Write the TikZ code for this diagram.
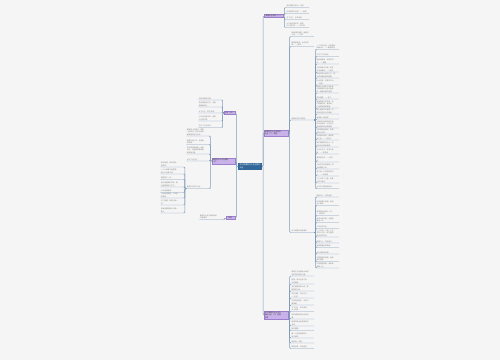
\documentclass[tikz,border=0pt]{standalone}
\usepackage{fontspec}
\newfontfamily\cjk{Noto Sans CJK SC}
\XeTeXlinebreaklocale "zh"
\XeTeXlinebreakskip=0pt plus 1pt
\definecolor{bgc}{HTML}{F5F5F5}
\definecolor{linec}{HTML}{7F9BB8}
\definecolor{txtg}{HTML}{858585}
\definecolor{purp}{HTML}{C9B2EA}
\definecolor{purpd}{HTML}{9C80CC}
\definecolor{cblue}{HTML}{33679A}
\tikzset{
  leaf/.style={font=\cjk\fontsize{1.7}{2.3}\selectfont, text=txtg, text width=22pt, inner xsep=0.4pt, inner ysep=0.5pt, align=left},
  lr/.style={leaf, anchor=south west},
  ll/.style={leaf, anchor=south east},
  topic/.style={font=\cjk\fontsize{1.8}{2.4}\selectfont, text=black!75, fill=purp, draw=purpd, line width=0.3pt, inner sep=0.6pt, align=left},
  conn/.style={draw=linec, line width=0.45pt, rounded corners=1pt},
}
\begin{document}
\begin{tikzpicture}[x=1pt,y=-1pt]
\useasboundingbox (0,0) rectangle (500,360);
\fill[bgc] (0,0) rectangle (500,360);

% central
\node[font=\cjk\fontsize{1.9}{2.5}\selectfont, text=white, fill=cblue, minimum width=24pt, minimum height=7pt, inner sep=0.5pt, align=left] (C) at (250,166.5) {关于爱国的名人名言摘抄\\大全};

% main topics
\node[topic, anchor=west, minimum width=19pt] (R1) at (264,16) {爱国名言警句（一）};
\node[topic, anchor=west, text width=23pt] (R2) at (264,133) {爱国的名人名言摘抄\\大全（二）精选};
\node[topic, anchor=west, text width=23pt] (R3) at (264,315) {关于爱国的名人名言\\摘抄大全（三）经典\\语录};
\node[topic, anchor=east, minimum width=11pt] (L1) at (235,113) {名言（四）};
\node[topic, anchor=east, text width=22pt] (L2) at (235,161) {爱国的名人名言摘抄\\（五）};
\node[topic, anchor=east, minimum width=9pt] (L3) at (235,218) {相关};

\draw[conn] (C.east) -- ++(1,0) |- (R1.west);
\draw[conn] (C.east) -- ++(1,0) |- (R2.west);
\draw[conn] (C.east) -- ++(1,0) |- (R3.west);
\draw[conn] (C.west) -- ++(-1.5,0) |- (L1.east);
\draw[conn] (C.west) -- ++(-1.5,0) |- (L2.east);
\draw[conn] (C.west) -- ++(-1.5,0) |- (L3.east);

% R1 children
\node[lr] (a1) at (286,7.5) {苟利国家生死以，岂因};
\node[lr] (a2) at (286,13.5) {位卑未敢忘忧国。——陆游};
\node[lr] (a3) at (286,19.5) {天下兴亡，匹夫有责。};
\node[lr] (a4) at (286,27.5) {人生自古谁无死，留取\\丹心照汗青。——文天祥};
\foreach \n in {a1,a2,a3,a4} \draw[conn] (R1.east) -- ++(1,0) |- (\n.south west) -- (\n.south east);

% R2 children
\node[lr] (b1) at (291,36.5) {我爱我的祖国，爱我的\\人民。——艾青};
\node[lr] (b2) at (291,46.5) {祖国如有难，汝应作前\\锋。——陈毅};
\node[lr] (b3) at (291,120) {爱国名言名句精选};
\node[lr] (b4) at (291,232.5) {关于爱国的经典语录};
\foreach \n in {b1,b2,b3,b4} \draw[conn] (R2.east) -- ++(1.2,0) |- (\n.south west) -- (\n.south east);

% b3 subs
\node[lr] (c1) at (316,49.5) {一个人的价值，应该看他\\贡献什么。——爱因斯坦};
\node[lr] (c2) at (316,56.5) {先天下之忧而忧。};
\node[lr] (c3) at (316,64) {捐躯赴国难，视死忽如\\归。——曹植};
\node[lr] (c4) at (316,72) {位卑未敢忘忧国，事定\\犹须待阖棺。——陆游};
\node[lr] (c5) at (316,78) {我是中国人民的儿子，我\\深情地爱着我的祖国。};
\node[lr] (c6) at (316,85) {以身许国，何事不可为。\\——陈毅};
\node[lr] (c7) at (316,93) {爱国主义就是千百年来\\巩固起来的对自己祖国\\的一种最深厚的感情。};
\node[lr] (c8) at (316,99) {精忠报国。——岳飞};
\node[lr] (c9) at (316,108) {祖国是我们的母亲，我\\们要爱护她、建设她，\\让她更加繁荣富强。};
\node[lr] (c10) at (316,114) {我们爱我们的民族，这\\是我们自信心的源泉。};
\node[lr] (c11) at (316,119) {爱国是一种情怀。};
\node[lr] (c12) at (316,128) {不管时代的潮流和社会\\的风尚怎样，人总可以\\凭着高贵的品质超脱。};
\node[lr] (c13) at (316,134) {劝君莫惜金缕衣，劝君\\惜取少年时。};
\node[lr] (c14) at (316,140) {常思奋不顾身，而殉国\\家之急。——司马迁};
\node[lr] (c15) at (316,147) {我们是国家的主人，应\\该处处为国家着想。};
\node[lr] (c16) at (316,154) {生当作人杰，死亦为鬼\\雄。——李清照};
\node[lr] (c17) at (316,162) {爱国如饥渴。——顾炎\\武};
\node[lr] (c18) at (316,169) {人民不仅有权爱国，而\\且爱国是义务。};
\node[lr] (c19) at (316,176) {我只是一个中国的读书\\人。——梁启超};
\node[lr] (c20) at (316,183) {寸寸山河寸寸金，侉离\\分裂力谁任。};
\node[lr] (c21) at (316,188.5) {为中华之崛起而读书。};
\foreach \n in {c1,c2,c3,c4,c5,c6,c7,c8,c9,c10,c11,c12,c13,c14,c15,c16,c17,c18,c19,c20,c21} \draw[conn] (b3.south east) -- ++(1.5,0) |- (\n.south west) -- (\n.south east);

% b4 subs
\node[lr] (d1) at (316,197) {国家兴亡，匹夫有责。};
\node[lr] (d2) at (316,205.5) {位卑未敢忘忧国，哪怕\\无人知我。};
\node[lr] (d3) at (316,215.5) {祖国的利益高于一切。\\——周恩来};
\node[lr] (d4) at (316,222.5) {我愿以身许国，为祖国\\献出一切。};
\node[lr] (d5) at (316,228.5) {三军可夺帅也。};
\node[lr] (d6) at (316,237) {一寸山河一寸血，十万\\青年十万军，保卫祖国\\是我们的责任。};
\node[lr] (d7) at (316,243) {报国之心，死而后已。};
\node[lr] (d8) at (316,247.5) {爱国是最高的美德。};
\node[lr] (d9) at (316,254) {我以我血荐轩辕。};
\node[lr] (d10) at (316,261.5) {中国是我的祖国，我爱\\我的祖国。};
\node[lr] (d11) at (316,268) {只要祖国需要，我愿意\\奉献一切。};
\foreach \n in {d1,d2,d3,d4,d5,d6,d7,d8,d9,d10,d11} \draw[conn] (b4.south east) -- ++(1.5,0) |- (\n.south west) -- (\n.south east);

% R3 children
\node[lr] (e1) at (291,276) {爱国主义是激励人民前\\进的强大精神力量。};
\node[lr] (e2) at (291,284) {祖国，我永远忠于你，\\为你献身。};
\node[lr] (e3) at (291,291) {我们爱祖国的山河，爱\\祖国的人民。};
\node[lr] (e4) at (291,298) {苟利社稷，死生以之。\\——左传};
\node[lr] (e5) at (291,305) {与其苟且偷生，不如为\\国捐躯。};
\node[lr] (e6) at (291,311.5) {天下兴亡，匹夫有责，\\人人有责。};
\node[lr] (e7) at (291,319) {我的祖国是我永远的骄\\傲。};
\node[lr] (e8) at (291,326) {祖国的命运就是我们的\\命运。};
\node[lr] (e9) at (291,330.5) {精忠报国。};
\node[lr] (e10) at (291,338) {做一个热爱祖国的人，\\是光荣的。};
\node[lr] (e11) at (291,343) {我爱你，中国。};
\node[lr] (e12) at (291,348.5) {国耻未雪，何由成名。};
\foreach \n in {e1,e2,e3,e4,e5,e6,e7,e8,e9,e10,e11,e12} \draw[conn] (R3.east) -- ++(1.2,0) |- (\n.south west) -- (\n.south east);

% L1 children
\node[ll] (f1) at (221.5,100) {位卑未敢忘忧国。};
\node[ll] (f2) at (221.5,107) {苟利国家生死以，岂因\\祸福避趋之。};
\node[ll] (f3) at (221.5,113) {天下兴亡，匹夫有责。};
\node[ll] (f4) at (221.5,121) {人生自古谁无死，留取\\丹心照汗青。};
\node[ll] (f5) at (221.5,127.5) {先天下之忧而忧。};
\foreach \n in {f1,f2,f3,f4,f5} \draw[conn] (L1.west) -- ++(-1,0) |- (\n.south east) -- (\n.south west);

% L2 children
\node[ll] (g1) at (209.5,136) {爱国是一种情怀，更是\\一种责任，我们应该把\\爱国落实到行动中。};
\node[ll] (g2) at (209.5,144.5) {祖国在我心中，我爱我\\的祖国。};
\node[ll] (g3) at (209.5,154) {我们要热爱祖国，热爱\\人民，为祖国的繁荣富\\强贡献力量。};
\node[ll] (g4) at (209.5,161) {以天下为己任。};
\node[ll] (g5) at (209.5,188.5) {爱国名言名句大全};
\foreach \n in {g1,g2,g3,g4,g5} \draw[conn] (L2.west) -- ++(-1.2,0) |- (\n.south east) -- (\n.south west);

% g5 subs
\node[ll] (h1) at (183.5,167) {我的祖国，我的母亲，\\我爱您。};
\node[ll] (h2) at (183.5,174) {一个人如果不爱祖国，\\就什么也做不成。};
\node[ll] (h3) at (183.5,179.5) {祖国高于一切。};
\node[ll] (h4) at (183.5,187) {我们是祖国的未来，要\\为祖国而努力学习。};
\node[ll] (h5) at (183.5,192.5) {少年强则国强。};
\node[ll] (h6) at (183.5,198) {少年智则国智，少年富\\则国富。};
\node[ll] (h7) at (183.5,205) {为了祖国，我愿付出一\\切。};
\node[ll] (h8) at (183.5,213) {热爱祖国是做人的第一\\要义。};
\foreach \n in {h1,h2,h3,h4,h5,h6,h7,h8} \draw[conn] (g5.south west) -- ++(-1.5,0) |- (\n.south east) -- (\n.south west);

% L3 child
\node[ll] (k1) at (222.5,219.5) {爱国名人名言摘抄相关\\文章推荐};
\draw[conn] (L3.west) -- ++(-1,0) |- (k1.south east) -- (k1.south west);
\end{tikzpicture}
\end{document}
